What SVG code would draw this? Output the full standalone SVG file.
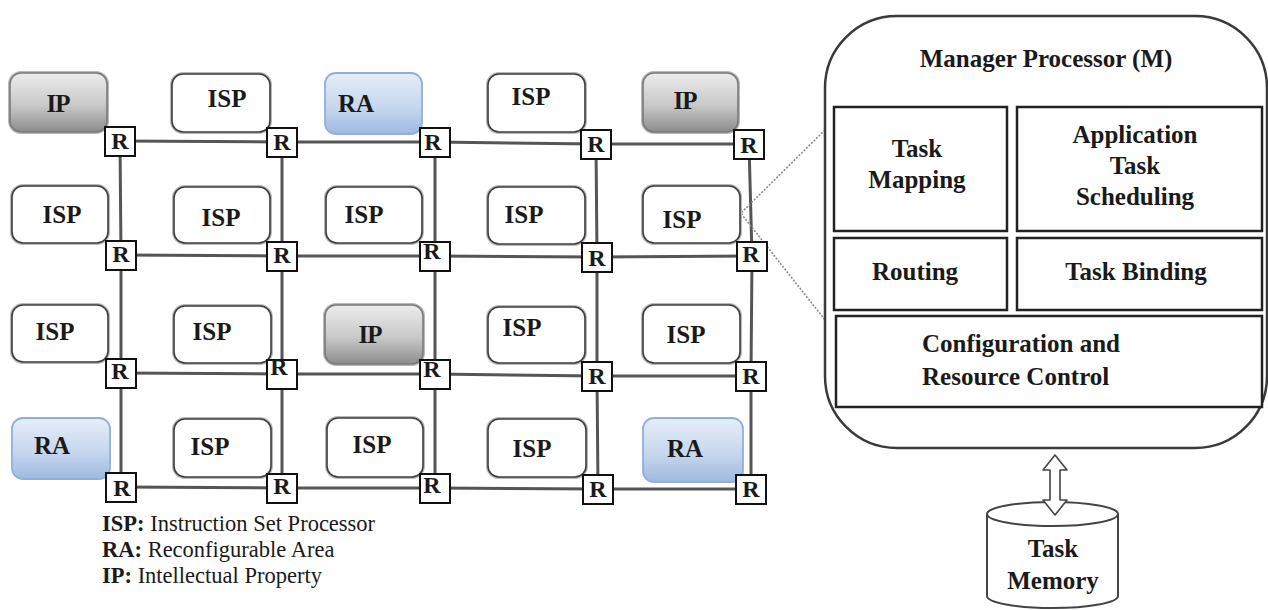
<svg xmlns="http://www.w3.org/2000/svg" width="1268" height="610" viewBox="0 0 1268 610">
  <defs>
    <linearGradient id="gIP" x1="0" y1="0" x2="0" y2="1">
      <stop offset="0" stop-color="#ececec"/>
      <stop offset="0.55" stop-color="#c8c8c8"/>
      <stop offset="1" stop-color="#8c8c8c"/>
    </linearGradient>
    <linearGradient id="gRA" x1="0" y1="0" x2="0" y2="1">
      <stop offset="0" stop-color="#e6eef8"/>
      <stop offset="0.55" stop-color="#c7d7ee"/>
      <stop offset="1" stop-color="#9fb9df"/>
    </linearGradient>
    <style>
      .t { font-family: "Liberation Serif", "Times New Roman", serif; font-weight: bold; fill: #1a1a1a; }
      .node { font-size: 25px; text-anchor: middle; }
      .isp { fill: #ffffff; stroke: #3c3c3c; stroke-width: 1.6; }
      .halo { fill: none; stroke: #b8b8b8; stroke-width: 4; }
      .ip { fill: url(#gIP); stroke: #7a7a7a; stroke-width: 1.6; }
      .ra { fill: url(#gRA); stroke: #8fb0dc; stroke-width: 1.8; }
      .router rect { fill: #ffffff; stroke: #111111; stroke-width: 2; }
      .router text { font-size: 24px; text-anchor: middle; }
      .link { stroke: #555555; stroke-width: 3; fill: none; }
      .dots { stroke: #8a8a8a; stroke-width: 1.6; stroke-dasharray: 2 1.5; fill: none; }
      .unit { fill: #ffffff; stroke: #222222; stroke-width: 2.5; }
      .mtext { font-size: 25px; text-anchor: middle; }
      .legend { font-family: "Liberation Serif", "Times New Roman", serif; font-size: 22.5px; fill: #1a1a1a; }
    </style>
  </defs>

  <!-- mesh links between routers -->
  <g id="connectors">
    <!-- horizontal -->
    <polyline class="link" points="120,141 282,142 435,142 596,144 749,144"/>
    <polyline class="link" points="121,255 282,256 435,256 597,257 752,256"/>
    <polyline class="link" points="121,373 282,374 435,374 597,376 751,376"/>
    <polyline class="link" points="121,487 282,488 435,488 598,489 751,489"/>
    <!-- vertical -->
    <polyline class="link" points="120,141 121,255 121,373 121,487"/>
    <polyline class="link" points="282,142 282,256 282,374 282,488"/>
    <polyline class="link" points="435,142 435,256 435,374 435,488"/>
    <polyline class="link" points="596,144 597,257 597,376 598,489"/>
    <polyline class="link" points="749,144 752,256 751,376 751,489"/>
    <!-- zoom lines from the tile to the manager -->
    <line class="dots" x1="739" y1="215" x2="833" y2="122"/>
    <line class="dots" x1="739" y1="211" x2="833" y2="330"/>
  </g>

  <!-- processing tiles, row 1 -->
  <g id="n-ip-1"><rect class="halo" x="10" y="73" width="97" height="59" rx="11"/><rect class="ip" x="10" y="73" width="97" height="59" rx="11"/><text class="t node" x="58" y="112" letter-spacing="-1">IP</text></g>
  <g id="n-isp-1-2"><rect class="halo" x="172" y="74" width="98" height="58" rx="11"/><rect class="isp" x="172" y="74" width="98" height="58" rx="11"/><text class="t node" x="227" y="107">ISP</text></g>
  <g id="n-ra-1"><rect class="ra" x="325" y="73" width="97" height="61" rx="11"/><text class="t node" x="356" y="112">RA</text></g>
  <g id="n-isp-1-4"><rect class="halo" x="488" y="74" width="97" height="58" rx="11"/><rect class="isp" x="488" y="74" width="97" height="58" rx="11"/><text class="t node" x="531" y="105">ISP</text></g>
  <g id="n-ip-2"><rect class="halo" x="643" y="73" width="95" height="59" rx="11"/><rect class="ip" x="643" y="73" width="95" height="59" rx="11"/><text class="t node" x="685" y="109" letter-spacing="-1">IP</text></g>

  <!-- row 2 -->
  <g id="n-isp-2-1"><rect class="halo" x="12" y="186" width="96" height="57" rx="11"/><rect class="isp" x="12" y="186" width="96" height="57" rx="11"/><text class="t node" x="62" y="223">ISP</text></g>
  <g id="n-isp-2-2"><rect class="halo" x="174" y="187" width="96" height="56" rx="11"/><rect class="isp" x="174" y="187" width="96" height="56" rx="11"/><text class="t node" x="221" y="226">ISP</text></g>
  <g id="n-isp-2-3"><rect class="halo" x="326" y="187" width="96" height="56" rx="11"/><rect class="isp" x="326" y="187" width="96" height="56" rx="11"/><text class="t node" x="364" y="223">ISP</text></g>
  <g id="n-isp-2-4"><rect class="halo" x="488" y="187" width="97" height="57" rx="11"/><rect class="isp" x="488" y="187" width="97" height="57" rx="11"/><text class="t node" x="524" y="223">ISP</text></g>
  <g id="n-isp-2-5"><rect class="halo" x="643" y="186" width="97" height="57" rx="11"/><rect class="isp" x="643" y="186" width="97" height="57" rx="11"/><text class="t node" x="682" y="228">ISP</text></g>

  <!-- row 3 -->
  <g id="n-isp-3-1"><rect class="halo" x="12" y="305" width="96" height="57" rx="11"/><rect class="isp" x="12" y="305" width="96" height="57" rx="11"/><text class="t node" x="55" y="340">ISP</text></g>
  <g id="n-isp-3-2"><rect class="halo" x="174" y="306" width="97" height="57" rx="11"/><rect class="isp" x="174" y="306" width="97" height="57" rx="11"/><text class="t node" x="212" y="340">ISP</text></g>
  <g id="n-ip-3"><rect class="halo" x="325" y="305" width="98" height="59" rx="11"/><rect class="ip" x="325" y="305" width="98" height="59" rx="11"/><text class="t node" x="370" y="343" letter-spacing="-1">IP</text></g>
  <g id="n-isp-3-4"><rect class="halo" x="488" y="307" width="97" height="56" rx="11"/><rect class="isp" x="488" y="307" width="97" height="56" rx="11"/><text class="t node" x="522" y="336">ISP</text></g>
  <g id="n-isp-3-5"><rect class="halo" x="643" y="305" width="97" height="58" rx="11"/><rect class="isp" x="643" y="305" width="97" height="58" rx="11"/><text class="t node" x="686" y="343">ISP</text></g>

  <!-- row 4 -->
  <g id="n-ra-2"><rect class="ra" x="12" y="418" width="98" height="61" rx="11"/><text class="t node" x="52" y="454">RA</text></g>
  <g id="n-isp-4-2"><rect class="halo" x="174" y="419" width="97" height="58" rx="11"/><rect class="isp" x="174" y="419" width="97" height="58" rx="11"/><text class="t node" x="210" y="455">ISP</text></g>
  <g id="n-isp-4-3"><rect class="halo" x="327" y="418" width="96" height="59" rx="11"/><rect class="isp" x="327" y="418" width="96" height="59" rx="11"/><text class="t node" x="372" y="453">ISP</text></g>
  <g id="n-isp-4-4"><rect class="halo" x="488" y="419" width="98" height="58" rx="11"/><rect class="isp" x="488" y="419" width="98" height="58" rx="11"/><text class="t node" x="532" y="457">ISP</text></g>
  <g id="n-ra-3"><rect class="ra" x="643" y="418" width="100" height="64" rx="11"/><text class="t node" x="685" y="457">RA</text></g>

  <!-- routers -->
  <g id="routers">
    <g class="router" id="r11"><rect x="105" y="127" width="30" height="29"/><text class="t" x="120" y="149">R</text></g>
    <g class="router" id="r12"><rect x="267" y="128" width="30" height="29"/><text class="t" x="282" y="150">R</text></g>
    <g class="router" id="r13"><rect x="420" y="128" width="30" height="29"/><text class="t" x="433" y="150">R</text></g>
    <g class="router" id="r14"><rect x="581" y="130" width="30" height="29"/><text class="t" x="596" y="152">R</text></g>
    <g class="router" id="r15"><rect x="734" y="130" width="30" height="29"/><text class="t" x="749" y="153">R</text></g>

    <g class="router" id="r21"><rect x="106" y="241" width="30" height="29"/><text class="t" x="121" y="262">R</text></g>
    <g class="router" id="r22"><rect x="267" y="242" width="30" height="29"/><text class="t" x="282" y="263">R</text></g>
    <g class="router" id="r23"><rect x="420" y="242" width="30" height="29"/><text class="t" x="432" y="259">R</text></g>
    <g class="router" id="r24"><rect x="582" y="243" width="30" height="29"/><text class="t" x="597" y="266">R</text></g>
    <g class="router" id="r25"><rect x="737" y="242" width="30" height="29"/><text class="t" x="751" y="262">R</text></g>

    <g class="router" id="r31"><rect x="106" y="359" width="30" height="29"/><text class="t" x="120" y="379">R</text></g>
    <g class="router" id="r32"><rect x="267" y="360" width="30" height="29"/><text class="t" x="279" y="375">R</text></g>
    <g class="router" id="r33"><rect x="420" y="360" width="30" height="29"/><text class="t" x="432" y="377">R</text></g>
    <g class="router" id="r34"><rect x="582" y="362" width="30" height="29"/><text class="t" x="597" y="384">R</text></g>
    <g class="router" id="r35"><rect x="736" y="362" width="30" height="29"/><text class="t" x="751" y="384">R</text></g>

    <g class="router" id="r41"><rect x="106" y="473" width="30" height="29"/><text class="t" x="122" y="496">R</text></g>
    <g class="router" id="r42"><rect x="267" y="474" width="30" height="29"/><text class="t" x="282" y="494">R</text></g>
    <g class="router" id="r43"><rect x="420" y="474" width="30" height="29"/><text class="t" x="432" y="493">R</text></g>
    <g class="router" id="r44"><rect x="583" y="475" width="30" height="29"/><text class="t" x="598" y="497">R</text></g>
    <g class="router" id="r45"><rect x="736" y="475" width="30" height="29"/><text class="t" x="751" y="497">R</text></g>
  </g>

  <!-- manager processor -->
  <g id="manager">
    <rect x="825" y="16" width="442" height="432" rx="72" ry="72" fill="#ffffff" stroke="#3a3a3a" stroke-width="2.5"/>
    <text class="t mtext" x="1046" y="67">Manager Processor (M)</text>
  </g>
  <g id="task-mapping">
    <rect class="unit" x="834" y="107" width="173" height="124"/>
    <text class="t mtext" x="917" y="157">Task</text>
    <text class="t mtext" x="917" y="188">Mapping</text>
  </g>
  <g id="app-scheduling">
    <rect class="unit" x="1017" y="107" width="245" height="124"/>
    <text class="t mtext" x="1135" y="143">Application</text>
    <text class="t mtext" x="1135" y="174">Task</text>
    <text class="t mtext" x="1135" y="205">Scheduling</text>
  </g>
  <g id="routing">
    <rect class="unit" x="834" y="238" width="173" height="72"/>
    <text class="t mtext" x="915" y="280">Routing</text>
  </g>
  <g id="task-binding">
    <rect class="unit" x="1017" y="238" width="245" height="72"/>
    <text class="t mtext" x="1136" y="280">Task Binding</text>
  </g>
  <g id="config">
    <rect class="unit" x="836" y="316" width="426" height="91"/>
    <text class="t" font-size="25" x="922" y="352">Configuration and</text>
    <text class="t" font-size="25" x="922" y="385">Resource Control</text>
  </g>

  <!-- task memory store -->
  <g id="task-memory">
    <path d="M987,514 L987,596 A65.5,12 0 0 0 1118,596 L1118,514" fill="#ffffff" stroke="#444444" stroke-width="2"/>
    <ellipse cx="1052.5" cy="514" rx="65.5" ry="12" fill="#ffffff" stroke="#444444" stroke-width="2"/>
    <text class="t mtext" x="1053" y="557">Task</text>
    <text class="t mtext" x="1053" y="589">Memory</text>
  </g>

  <!-- two-way transfer arrow -->
  <g id="transfer">
    <polygon points="1055,455 1067,470 1060,470 1060,500 1067,500 1055,515 1043,500 1050,500 1050,470 1043,470" fill="#ffffff" stroke="#444444" stroke-width="1.6" stroke-linejoin="round"/>
  </g>

  <!-- key -->
  <g id="legend">
    <text class="legend" x="102" y="531"><tspan font-weight="bold">ISP:</tspan> Instruction Set Processor</text>
    <text class="legend" x="102" y="557"><tspan font-weight="bold">RA:</tspan> Reconfigurable Area</text>
    <text class="legend" x="102" y="583"><tspan font-weight="bold">IP:</tspan> Intellectual Property</text>
  </g>
</svg>
